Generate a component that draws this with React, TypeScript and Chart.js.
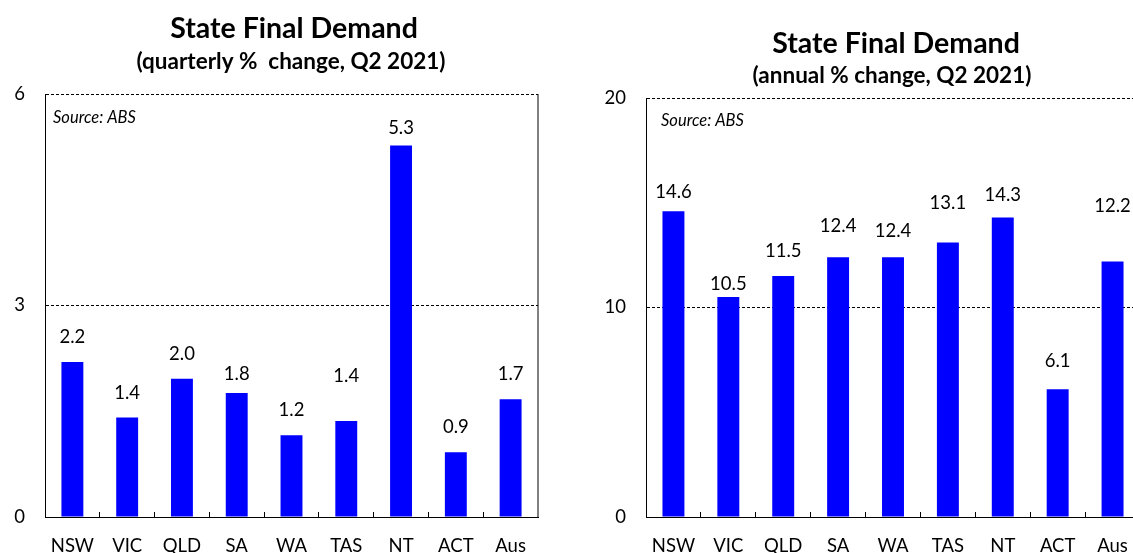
import React, { useEffect, useRef } from "react";
import { Chart, registerables } from "chart.js";

Chart.register(...registerables);

// ---- data ----
const categories = ["NSW", "VIC", "QLD", "SA", "WA", "TAS", "NT", "ACT", "Aus"];
const quarterlyChange = [2.2, 1.41, 1.96, 1.76, 1.16, 1.36, 5.27, 0.92, 1.67];
const annualChange = [14.6, 10.5, 11.5, 12.4, 12.4, 13.1, 14.3, 6.1, 12.2];
const quarterlyTicks = [0, 3, 6];
const annualTicks = [0, 10, 20];
const titleText = "State Final Demand";
const quarterlySubtitle = "(quarterly %  change, Q2 2021)";
const annualSubtitle = "(annual % change, Q2 2021)";
const sourceText = "Source: ABS";

// ---- styles (label gaps in px above bar tops) ----
const quarterlyLabelGap = [25, 25, 25, 19, 25, 45, 17, 25, 25];
const annualLabelGap = [19, 13, 25, 31, 26, 40, 22, 28, 55];

const FONT = "Lato, 'Open Sans', sans-serif";

type PanelCfg = {
  values: number[];
  ticks: number[];
  gaps: number[];
  subtitle: string;
  axisWidth: number;
  padRight: number;
  padTop: number;
  titleX: number;
  titleY: number;
  subX: number;
  subY: number;
  srcX: number;
  srcY: number;
};

function makeChart(canvas: HTMLCanvasElement, p: PanelCfg) {
  const overlay = {
    id: "overlay",
    afterDatasetsDraw(chart: any) {
      const ctx = chart.ctx;
      const meta = chart.getDatasetMeta(0);
      ctx.save();
      ctx.fillStyle = "#000";
      ctx.textAlign = "center";
      ctx.textBaseline = "middle";
      ctx.font = `18.5px ${FONT}`;
      meta.data.forEach((el: any, i: number) => {
        ctx.fillText(p.values[i].toFixed(1), el.x, el.y - p.gaps[i]);
      });
      // right frame line
      const a = chart.chartArea;
      ctx.strokeStyle = "#000";
      ctx.lineWidth = 1;
      ctx.beginPath();
      ctx.moveTo(a.right, a.top);
      ctx.lineTo(a.right, a.bottom);
      ctx.stroke();
      // titles
      ctx.font = `bold 28.5px ${FONT}`;
      ctx.fillText(titleText, p.titleX, p.titleY);
      ctx.font = `bold 22.5px ${FONT}`;
      ctx.fillText(p.subtitle, p.subX, p.subY);
      ctx.font = `italic 16.5px ${FONT}`;
      ctx.textAlign = "left";
      ctx.fillText(sourceText, p.srcX, p.srcY);
      ctx.restore();
    },
  };

  return new Chart(canvas, {
    type: "bar",
    data: {
      labels: categories,
      datasets: [
        {
          data: p.values,
          backgroundColor: "#0000FF",
          borderWidth: 0,
          barPercentage: 0.4,
          categoryPercentage: 1,
        },
      ],
    },
    options: {
      responsive: false,
      animation: false,
      devicePixelRatio: 1,
      layout: { padding: { left: 0, right: p.padRight, top: p.padTop, bottom: 0 } },
      plugins: {
        legend: { display: false },
        title: { display: false },
        tooltip: { enabled: false },
      },
      scales: {
        x: {
          afterFit: (s: any) => {
            s.height = 36;
          },
          grid: {
            offset: true,
            drawOnChartArea: false,
            drawTicks: true,
            tickLength: -5,
            tickColor: (c: any) =>
              c.index === undefined || c.index === 0 ? "rgba(0,0,0,0)" : "#000",
            color: "#000",
          },
          border: { display: true, color: "#000", width: 1 },
          ticks: {
            color: "#000",
            font: { family: FONT, size: 18.5 },
            padding: 23,
            maxRotation: 0,
            autoSkip: false,
          },
        },
        y: {
          min: p.ticks[0],
          max: p.ticks[p.ticks.length - 1],
          afterFit: (s: any) => {
            s.width = p.axisWidth;
          },
          afterBuildTicks: (s: any) => {
            s.ticks = p.ticks.map((v) => ({ value: v }));
          },
          grid: {
            drawTicks: false,
            color: (c: any) =>
              c.tick && c.tick.value === 0 ? "rgba(0,0,0,0)" : "#000",
            lineWidth: 1,
          },
          border: { display: true, color: "#000", width: 1, dash: [3, 2] },
          ticks: {
            color: "#000",
            font: { family: FONT, size: 18.5 },
            padding: 20,
          },
        },
      },
    },
    plugins: [overlay],
  });
}

export default function App() {
  const leftRef = useRef<HTMLCanvasElement>(null);
  const rightRef = useRef<HTMLCanvasElement>(null);

  useEffect(() => {
    const c1 = makeChart(leftRef.current!, {
      values: quarterlyChange,
      ticks: quarterlyTicks,
      gaps: quarterlyLabelGap,
      subtitle: quarterlySubtitle,
      axisWidth: 45,
      padRight: 28,
      padTop: 94,
      titleX: 294,
      titleY: 29,
      subX: 291,
      subY: 62,
      srcX: 53,
      srcY: 118,
    });
    const c2 = makeChart(rightRef.current!, {
      values: annualChange,
      ticks: annualTicks,
      gaps: annualLabelGap,
      subtitle: annualSubtitle,
      axisWidth: 80,
      padRight: 26,
      padTop: 98,
      titleX: 330,
      titleY: 44,
      subX: 326,
      subY: 76,
      srcX: 95,
      srcY: 121,
    });
    return () => {
      c1.destroy();
      c2.destroy();
    };
  }, []);

  return (
    <div
      style={{
        position: "absolute",
        left: 0,
        top: 0,
        width: 1133,
        height: 553,
        overflow: "hidden",
        background: "#fff",
      }}
    >
      <canvas
        ref={leftRef}
        width={566}
        height={553}
        style={{ position: "absolute", left: 0, top: 0, width: 566, height: 553 }}
      />
      <canvas
        ref={rightRef}
        width={600}
        height={553}
        style={{ position: "absolute", left: 566, top: 0, width: 600, height: 553 }}
      />
    </div>
  );
}
